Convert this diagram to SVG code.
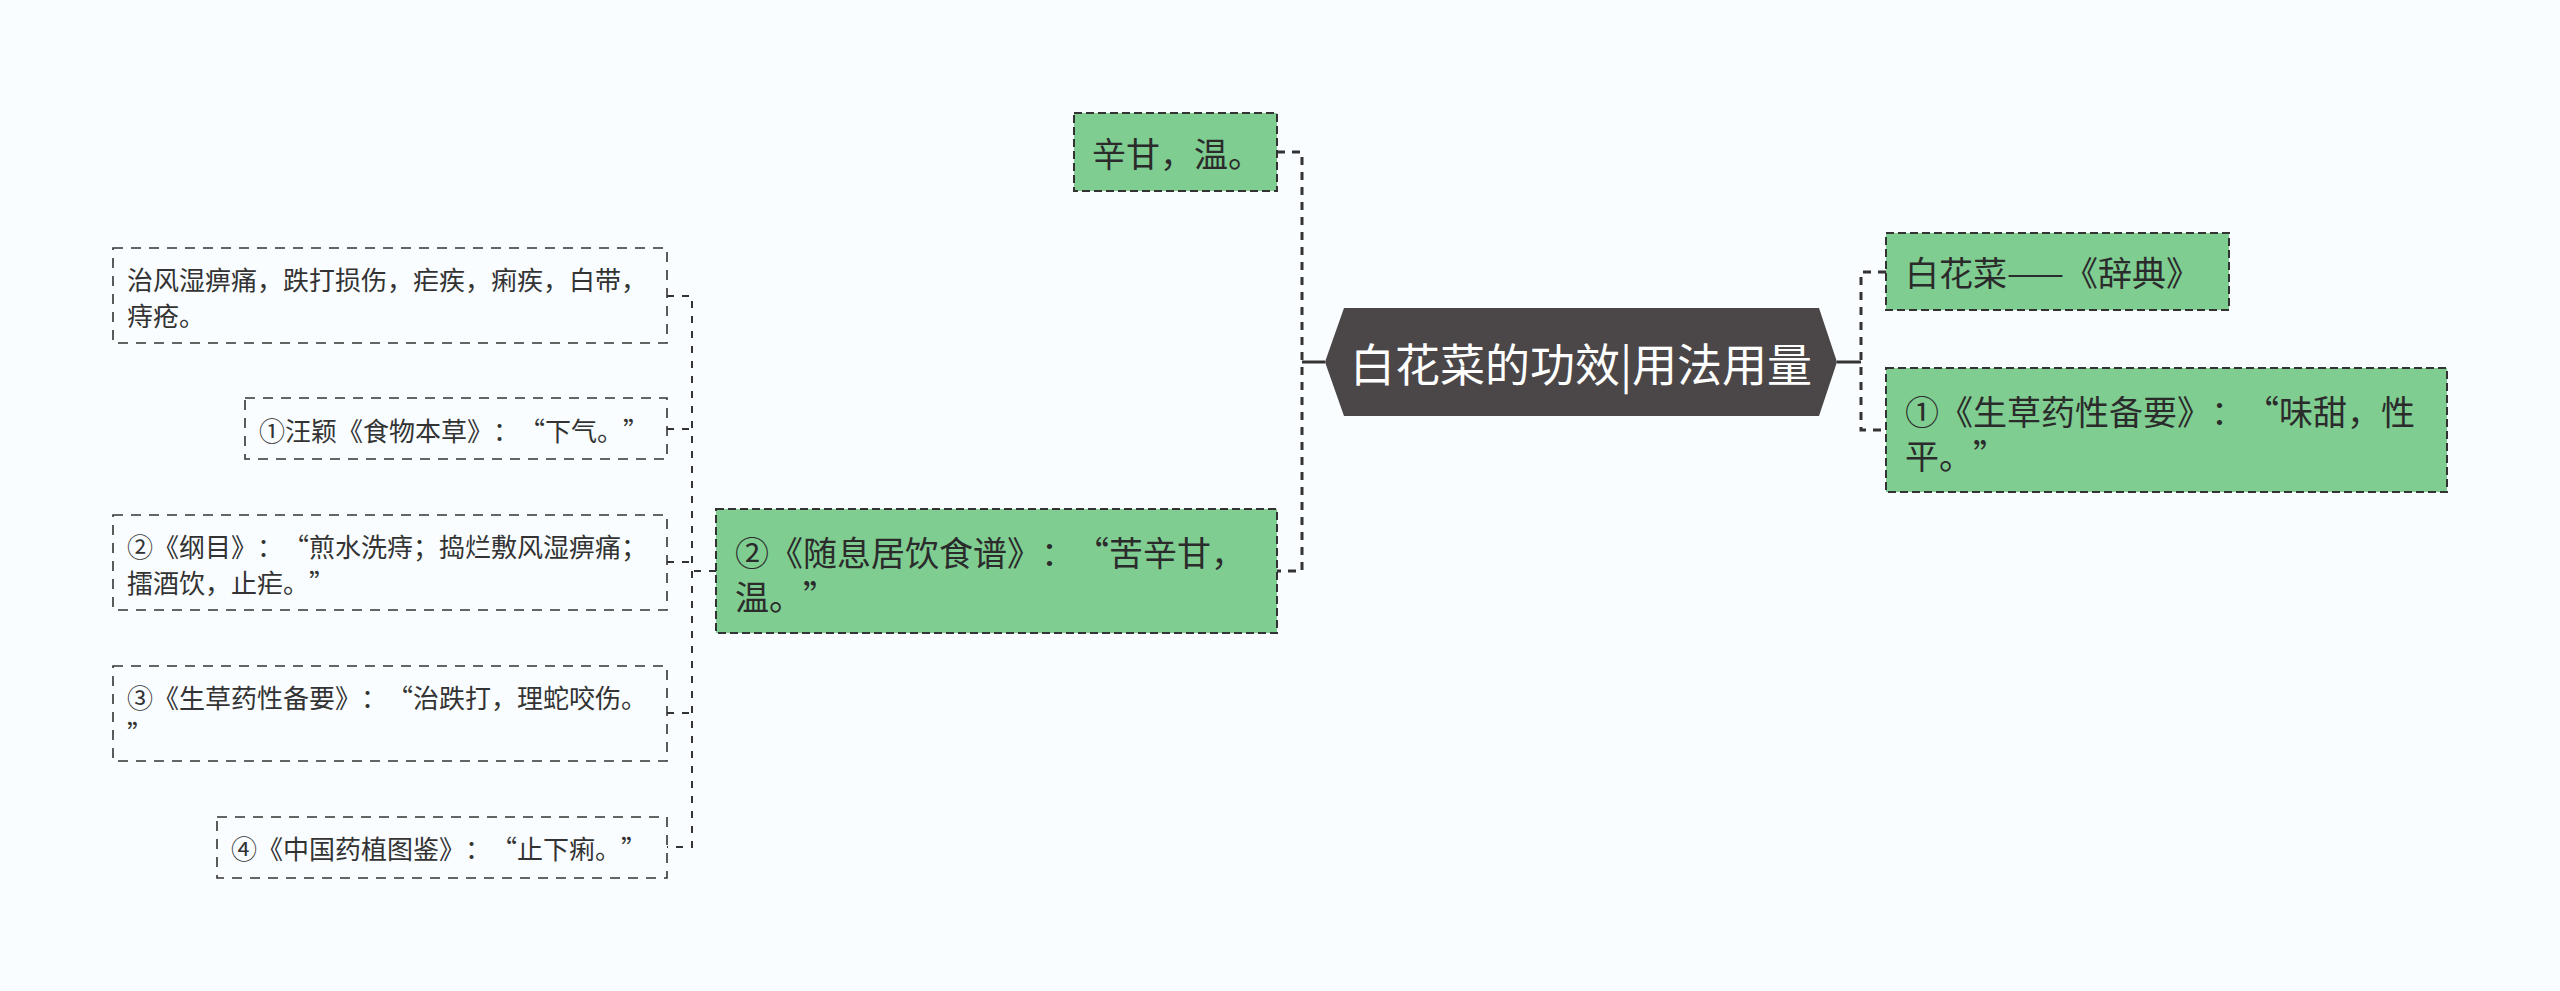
<svg xmlns="http://www.w3.org/2000/svg" width="2560" height="991" viewBox="0 0 2560 991">
<style>
text{font-family:"Noto Sans CJK SC","Noto Sans CJK TC",sans-serif;dominant-baseline:central;text-spacing-trim:space-all;font-kerning:none}
.bg{fill:#f9fdff}
.g{fill:#7fcd91;stroke:#333;stroke-width:2;stroke-dasharray:8 4}
.lf{fill:#f9fdff;stroke:#333;stroke-width:1.6;stroke-dasharray:10 8}
.t1{font-size:34px;fill:#2b2b2b}
.t2{font-size:26px;fill:#333}
.tc{font-size:45px;fill:#ffffff;text-anchor:middle}
.c{fill:none;stroke:#333;stroke-width:3;stroke-dasharray:8 7}
.cs{fill:none;stroke:#333;stroke-width:3}
.c2{fill:none;stroke:#333;stroke-width:2;stroke-dasharray:7 8}
</style>
<rect class="bg" x="0" y="0" width="2560" height="991"/>
<g id="connectors">
<path class="cs" d="M1325,362 H1302"/>
<path class="c" d="M1277,152 H1302 V571 H1277"/>
<path class="cs" d="M1837,362 H1861"/>
<path class="c" d="M1886,272 H1861 V430 H1886"/>
<path class="c2" d="M716,571 H692"/>
<path class="c2" d="M667,296 H692 V847 H667"/>
<path class="c2" d="M667,429 H692"/>
<path class="c2" d="M667,562 H692"/>
<path class="c2" d="M667,713 H692"/>
</g>
<g id="root">
<polygon points="1325,362 1344,308 1819,308 1837,362 1819,416 1344,416" fill="#4b4748"/>
<text class="tc" x="1581" y="362">白花菜的功效|用法用量</text>
</g>
<g id="n-xingan">
<rect class="g" x="1074" y="113" width="203" height="78"/>
<text class="t1" x="1092" y="152">辛甘，温。</text>
</g>
<g id="n-suixi">
<rect class="g" x="716" y="509" width="561" height="124"/>
<text class="t1" x="735" y="551">②《随息居饮食谱》：“苦辛甘，</text>
<text class="t1" x="735" y="595">温。”</text>
</g>
<g id="n-cidian">
<rect class="g" x="1886" y="233" width="343" height="77"/>
<text class="t1" x="1905" y="271">白花菜——《辞典》</text>
</g>
<g id="n-shengcao1">
<rect class="g" x="1886" y="368" width="561" height="124"/>
<text class="t1" x="1905" y="410">①《生草药性备要》：“味甜，性</text>
<text class="t1" x="1905" y="454">平。”</text>
</g>
<g id="l-zhifeng">
<rect class="lf" x="113" y="248" width="554" height="95"/>
<text class="t2" x="127" y="278">治风湿痹痛，跌打损伤，疟疾，痢疾，白带，</text>
<text class="t2" x="127" y="314">痔疮。</text>
</g>
<g id="l-wangying">
<rect class="lf" x="245" y="398" width="422" height="61"/>
<text class="t2" x="259" y="429">①汪颖《食物本草》：“下气。”</text>
</g>
<g id="l-gangmu">
<rect class="lf" x="113" y="515" width="554" height="95"/>
<text class="t2" x="127" y="545">②《纲目》：“煎水洗痔；捣烂敷风湿痹痛；</text>
<text class="t2" x="127" y="581">擂酒饮，止疟。”</text>
</g>
<g id="l-shengcao3">
<rect class="lf" x="113" y="666" width="554" height="95"/>
<text class="t2" x="127" y="696">③《生草药性备要》：“治跌打，理蛇咬伤。</text>
<text class="t2" x="127" y="732">”</text>
</g>
<g id="l-zhongguo">
<rect class="lf" x="217" y="817" width="450" height="61"/>
<text class="t2" x="231" y="847">④《中国药植图鉴》：“止下痢。”</text>
</g>
</svg>
